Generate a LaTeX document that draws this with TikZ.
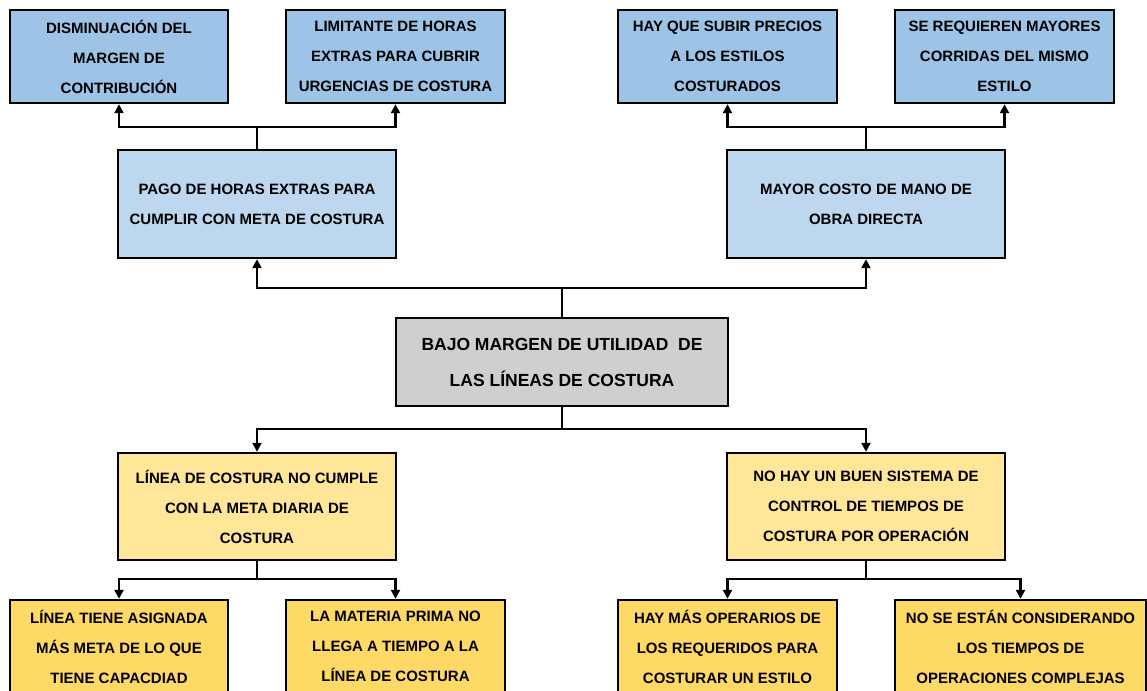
\documentclass[tikz,border=0pt]{standalone}
\usepackage{fontspec}
\setmainfont{Liberation Sans}
\usetikzlibrary{arrows.meta}
\definecolor{blueA}{HTML}{9DC3E6}
\definecolor{blueB}{HTML}{BDD7EE}
\definecolor{grayC}{HTML}{D0CECE}
\definecolor{yelA}{HTML}{FFE699}
\definecolor{yelB}{HTML}{FFD966}
\tikzset{
  box/.style={draw=black, line width=2.4pt, rectangle, inner sep=0pt, align=center,
    font=\bfseries\fontsize{15}{30}\selectfont},
  topbox/.style={box, fill=blueA, minimum height=93pt},
  midbox/.style={box, fill=blueB, minimum width=278pt, minimum height=108pt},
  corebox/.style={box, fill=grayC, minimum width=332pt, minimum height=88pt,
    font=\bfseries\fontsize{17.5}{36}\selectfont},
  ybox/.style={box, fill=yelA, minimum width=278pt, minimum height=107pt},
  botbox/.style={box, fill=yelB, minimum height=93pt},
  conn/.style={line width=2.7pt, line join=miter},
  arr/.style={conn, -{Triangle[length=9pt,width=9pt]}}
}
\begin{document}
\begin{tikzpicture}[x=1pt,y=-1pt]
\useasboundingbox (0,0) rectangle (1147,690);
\fill[white] (0,0) rectangle (1147,690);
\clip (0,0) rectangle (1147,690);
% top row
\node[topbox, minimum width=218pt] (a) at (119,56.5) {DISMINUACIÓN DEL\\MARGEN DE\\CONTRIBUCIÓN};
\node[topbox, minimum width=219pt] (b) at (395.5,56.5) {LIMITANTE DE HORAS\\EXTRAS PARA CUBRIR\\URGENCIAS DE COSTURA};
\node[topbox, minimum width=219pt] (c) at (727.5,56.5) {HAY QUE SUBIR PRECIOS\\A LOS ESTILOS\\COSTURADOS};
\node[topbox, minimum width=219pt] (d) at (1004.5,56.5) {SE REQUIEREN MAYORES\\CORRIDAS DEL MISMO\\ESTILO};
% second row
\node[midbox] (pago) at (257,204) {PAGO DE HORAS EXTRAS PARA\\CUMPLIR CON META DE COSTURA};
\node[midbox] (mayor) at (866,204) {MAYOR COSTO DE MANO DE\\OBRA DIRECTA};
% core
\node[corebox] (core) at (562,362) {BAJO MARGEN DE UTILIDAD~ DE\\LAS LÍNEAS DE COSTURA};
% causes
\node[ybox] (y1) at (257,506.5) {LÍNEA DE COSTURA NO CUMPLE\\CON LA META DIARIA DE\\COSTURA};
\node[ybox] (y2) at (866,506.5) {NO HAY UN BUEN SISTEMA DE\\CONTROL DE TIEMPOS DE\\COSTURA POR OPERACIÓN};
% bottom row
\node[botbox, minimum width=218pt] (e) at (119,646.5) {LÍNEA TIENE ASIGNADA\\MÁS META DE LO QUE\\TIENE CAPACDIAD};
\node[botbox, minimum width=219pt] (f) at (395.5,646.5) {LA MATERIA PRIMA NO\\LLEGA A TIEMPO A LA\\LÍNEA DE COSTURA};
\node[botbox, minimum width=219pt] (g) at (727.5,646.5) {HAY MÁS OPERARIOS DE\\LOS REQUERIDOS PARA\\COSTURAR UN ESTILO};
\node[botbox, minimum width=251pt] (h) at (1020.5,646.5) {NO SE ESTÁN CONSIDERANDO\\LOS TIEMPOS DE\\OPERACIONES COMPLEJAS};
% bus coordinates
\coordinate (bl) at (257,127);
\coordinate (br) at (866,127);
\coordinate (bm) at (562,288);
\coordinate (bd) at (562,429);
\coordinate (bel) at (257,579);
\coordinate (ber) at (866,579);
% connectors
\draw[conn] (pago.north) -- (bl);
\draw[arr] (bl) -| (a.south);
\draw[arr] (bl) -| (b.south);
\draw[conn] (mayor.north) -- (br);
\draw[arr] (br) -| (c.south);
\draw[arr] (br) -| (d.south);
\draw[conn] (core.north) -- (bm);
\draw[arr] (bm) -| (pago.south);
\draw[arr] (bm) -| (mayor.south);
\draw[conn] (core.south) -- (bd);
\draw[arr] (bd) -| (y1.north);
\draw[arr] (bd) -| (y2.north);
\draw[conn] (y1.south) -- (bel);
\draw[arr] (bel) -| (e.north);
\draw[arr] (bel) -| (f.north);
\draw[conn] (y2.south) -- (ber);
\draw[arr] (ber) -| (g.north);
\draw[arr] (ber) -| (h.north);
\end{tikzpicture}
\end{document}
